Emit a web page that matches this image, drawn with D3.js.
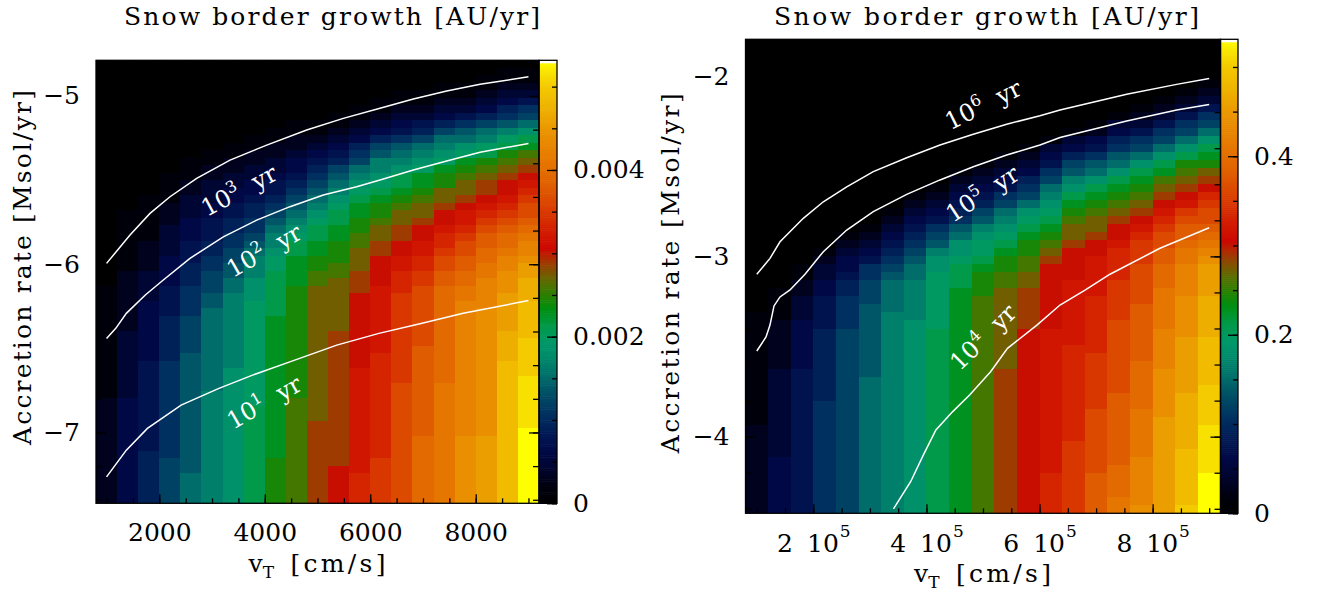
<!DOCTYPE html>
<html>
<head>
<meta charset="utf-8">
<script src="https://cdn.jsdelivr.net/npm/d3@7"></script>
<style>
  html, body { margin:0; padding:0; background:#ffffff; }
  svg { display:block; }
  text { font-family: "DejaVu Serif", serif; fill:#000; }
</style>
</head>
<body>
<svg id="chart" width="1318" height="595" xmlns="http://www.w3.org/2000/svg"></svg>
<script>
// ======================= DATA =======================
// turbulent velocity grid (cell centres) [cm/s]
const leftVT  = [1000,1400,1800,2200,2600,3000,3400,3800,4200,4600,5000,5400,5800,6200,6600,7000,7400,7800,8200,8600,9000];
const rightVT = [100000,140000,180000,220000,260000,300000,340000,380000,420000,460000,500000,540000,580000,620000,660000,700000,740000,780000,820000,860000,900000];
const leftVTRange  = [800, 9200];
const rightVTRange = [80000, 920000];
// log10 accretion rate extent of the image [Msol/yr]; rows are equal steps in log
const leftLogMdotRange  = [-7.421, -4.788];
const rightLogMdotRange = [-4.425, -1.796];
const gridRows = 59;
// colour-bar ranges [AU/yr]
const leftGrowthMax  = 0.005316;
const rightGrowthMax = 0.531;
// snow-border growth: one string per vT column (top row first),
// each character a base-36 level 0..z  (level/35 of the colour-bar range)
const levelSteps = 35;
const leftGrowthLevels = [
  "0000000000 0000000000 0000000000 1111111111 1111122222 222222222",
  "0000000000 0000000000 1111111122 2222223333 3333344444 444444444",
  "0000000000 0000000011 1111222233 3344444444 5555555555 556666666",
  "0000000000 0000011112 2233334444 5555666666 7777777777 777888888",
  "0000000000 0001112233 3444555666 7777888889 9999999999 99999aaaa",
  "0000000000 0011223334 4555667788 899aaaaaaa aaaabbbbbb bbbbbbbbb",
  "0000000000 0112233445 566778899a abbbbbbbbb bccccccccc ccccccccc",
  "0000000000 1122334456 67789abbbc ccdddddddd ddddddeeee eeeeeeeee",
  "0000000001 1223345567 89abbcddee eeeeffffff ffffffffff fffgggggg",
  "0000000011 2234456789 abcdeeffff gggggggggg ggggghhhhh hhhhhhhhh",
  "0000000011 23456789ab cdeeffgghh iiiiiiiiii iiiiiiiijj jjjjjjjjj",
  "0000000112 345689abcd eeffggghhi iiiiiijjjj jjjjjjjjjj jjjjkkkkk",
  "0000001123 4678abcdef fgghhiiijj jkkkkkkkkk klllllllll lllllmmmm",
  "0000011234 689bbcdefg ghiijjkkkk lllllllllm mmmmmmmmmm mmmnnnnnn",
  "0000112345 79abceefgh iijjkkllmm mnnnnnnnnn nnnooooooo ooooooooo",
  "0000112356 8abcdffghi ijkkllmmnn oooooooopp pppppppppp qqqqqqqqq",
  "0001123468 abcdfggiij kklmmnoopp qqqqqqqqqq qqqrrrrrrr rrrrrrrrr",
  "0001123579 acdfghiijk llmnooppqq rrssssssss ssssssssss ttttttttt",
  "001123468a bdeghijjkl mnoppqqrrs sssttttttt tttttttttt uuuuuuuuu",
  "011234679b deghijkklm nopqqrsstt tuuuuuvvvv wwwwwwwwww wwwwwwwww",
  "01123578ac efhijklmno opqrsstuuv vvwwwwwxxx xxyyyyyyyz zzzzzzzzz"
];
const rightGrowthLevels = [
  "0000000000 0000000000 0000000000 0000111111 1111111122 222222222",
  "0000000000 0000000000 0000000000 0111122222 2333333333 334444444",
  "0000000000 0000000000 0000000011 2233344444 4555555555 555555555",
  "0000000000 0000000000 0000001233 4455556666 6666677777 777777777",
  "0000000000 0000000000 0000123445 6677778888 8888888888 888888888",
  "0000000000 0000000000 0001234577 8889999999 99aaaaaaaa aaaaaaaaa",
  "0000000000 0000000000 0123456789 aaaabbbbbb bbbbbbbbbb bbbbbbbbb",
  "0000000000 0000000001 23456789aa bbbbbccccc cccccccccc ccccccccc",
  "0000000000 0000000012 345789bccd ddddddeeee eeeeeeeeee eeeeeeeee",
  "0000000000 0000001234 5679accdee efffffffff ffffffffff fffffffff",
  "0000000000 0000012345 689bcddefg gghhhhhhhh hhhhhhhhhh hhhhhhhhh",
  "0000000000 0000123457 8abcdefggh hiiiiiiiii ijjjjjjjjj jjjjjjjjj",
  "0000000000 0001234678 acdefgghhi ijjjjjkkkk kkkkkkkkkk kkkkkkkkk",
  "0000000000 00134578ab cdefghijkk kkkkkkllll llllllllll llllmmmmm",
  "0000000000 0134689bce fghiijkkkk llllllllmm mmmmmmmmmm nnnnnnnnn",
  "0000000000 124579acef ghiijkklll llmmmmmmmn nnnnnnoooo ooooppppp",
  "0000000001 34679acefg hijkklmmmm nnnnnooooo oooopppppp pppqqqqrr",
  "0000000012 3578acefgh ijklmnnnoo oooppppppp qqqqqqrrrr rrsssssst",
  "0000000123 578acefhij klmnooppqq qrrrrrssss sttttttuuu uuuuuuuuu",
  "0000001235 78aceghijk lnoppqrrss sstttttuuu uuuuvvvvvv vwwwwwwwx",
  "0000012357 8acefgijkm noopqrstuu uuvvvvvwww wwwxxxxxyy yyyyzzzzz"
];
// timescale contours [vT, log10 Mdot]
const leftContour1e3 = [[1000,-5.995],[1445,-5.827],[1824,-5.698],[2203,-5.599],[2709,-5.490],[3341,-5.381],[4037,-5.292],[4795,-5.202],[5489,-5.133],[6185,-5.073],[6817,-5.018],[7450,-4.971],[8082,-4.931],[9000,-4.886]];
const leftContour1e2 = [[1000,-6.441],[1175,-6.381],[1375,-6.292],[1735,-6.183],[2076,-6.094],[2582,-5.965],[3214,-5.837],[3847,-5.738],[4479,-5.658],[5110,-5.589],[5743,-5.540],[6185,-5.500],[6817,-5.440],[7450,-5.387],[8082,-5.335],[9000,-5.282]];
const leftContour1e1 = [[1000,-7.264],[1375,-7.105],[1775,-6.976],[2414,-6.837],[3131,-6.738],[3769,-6.659],[4568,-6.570],[5366,-6.481],[6164,-6.411],[6963,-6.352],[7763,-6.292],[9000,-6.216]];
const rightContour1e6 = [[100000,-3.099],[123300,-3.011],[141000,-2.919],[182200,-2.789],[217600,-2.697],[259000,-2.614],[306000,-2.530],[365100,-2.453],[424000,-2.382],[482800,-2.323],[541900,-2.267],[600800,-2.220],[636200,-2.188],[754100,-2.101],[842500,-2.046],[900000,-2.013]];
const rightContour1e5 = [[100000,-3.525],[116300,-3.447],[123300,-3.381],[130400,-3.275],[141000,-3.225],[158700,-3.186],[185200,-3.099],[217600,-2.974],[259000,-2.854],[306000,-2.752],[365100,-2.656],[424000,-2.576],[482800,-2.503],[541900,-2.438],[600800,-2.382],[636200,-2.341],[754100,-2.249],[842500,-2.188],[900000,-2.157]];
const rightContour1e4 = [[341700,-4.401],[372000,-4.250],[394400,-4.102],[416700,-3.963],[446400,-3.861],[476300,-3.769],[513400,-3.640],[543300,-3.510],[595300,-3.381],[636200,-3.270],[680400,-3.187],[724600,-3.099],[813000,-2.955],[900000,-2.841]];
const leftContourExponents  = ["3","2","1"];
const rightContourExponents = ["6","5","4"];
// ticks
const leftXTicks  = [2000,4000,6000,8000];
const rightXTicks = [200000,400000,600000,800000];
const leftYTicks  = [-7,-6,-5];
const rightYTicks = [-4,-3,-2];
const leftCbarTicks  = [0,0.002,0.004];
const rightCbarTicks = [0,0.2,0.4];
// texts
const titleText  = "Snow border growth [AU/yr]";
const yTitleText = "Accretion rate [Msol/yr]";
const xTitleVar = "v", xTitleSub = "T", xTitleUnit = "[cm/s]";
const contourUnit = "yr";

// ======================= STYLE / LAYOUT =======================
const colorStops = [0,0.04,0.08,0.12,0.16,0.20,0.25,0.29,0.33,0.36,0.40,0.44,0.47,0.50,0.53,0.555,0.575,0.62,0.67,0.72,0.78,0.84,0.89,0.94,0.975,1];
const colorHex   = ["#000000","#000010","#000530","#000a48","#001a55","#003060","#005066","#00706a","#008a6a","#00986a","#009a4a","#008f10","#2a8000","#5a6e00","#8a4c00","#b02a00","#cc0800","#d42000","#da4000","#e06000","#e67a00","#ea9400","#eeb000","#f4c800","#f8e400","#ffff00"];
const cmap = d3.scaleLinear().domain(colorStops).range(colorHex).interpolate(d3.interpolateRgb).clamp(true);

const FS = 25;
const LAYOUT = {
  left: { x0:96, x1:539, y0:60.3, y1:503.3, cbX0:539, cbX1:557,
          titleX:332, titleW:416, yTitleX:31, yTitleY:267.5, yTitleW:355,
          xTitleC:317.5, xTitleBase:571.7, xPad:20,
          labels:[{vT:3515,logM:-5.564,angle:-28},{vT:3989,logM:-5.921,angle:-30},{vT:3991,logM:-6.822,angle:-30}] },
  right:{ x0:745.5, x1:1220.5, y0:39.3, y1:513.3, cbX0:1220.5, cbX1:1238,
          titleX:986.5, titleW:425, yTitleX:679, yTitleY:273.3, yTitleW:360,
          xTitleC:983, xTitleBase:581.7, xPad:20.5,
          labels:[{vT:500500,logM:-2.160,angle:-26.6},{vT:499100,logM:-2.654,angle:-33.4},{vT:500500,logM:-3.450,angle:-44.5}] }
};

const svg = d3.select("#chart");
svg.append("rect").attr("width",1318).attr("height",595).attr("fill","#fff");

function styleAxis(sel){
  sel.select(".domain").remove();
  sel.attr("font-family", null).attr("font-size", FS);
  sel.selectAll(".tick line").attr("stroke","#000").attr("stroke-width",1.3);
}

function drawPanel(P, Lay, id){
  const g = svg.append("g");
  const x  = d3.scaleLinear().domain(P.vtRange).range([Lay.x0, Lay.x1]);
  const y  = d3.scaleLinear().domain(P.logRange).range([Lay.y1, Lay.y0]);
  const cb = d3.scaleLinear().domain([0, P.vmax]).range([Lay.y1, Lay.y0]);
  const dv = P.vT[1] - P.vT[0];
  const dRow = (P.logRange[1] - P.logRange[0]) / gridRows;

  const cells = [];
  P.levels.forEach((str, j) => {
    const s = str.replace(/ /g, "");
    for (let i = 0; i < s.length; i++) {
      const top = P.logRange[1] - i*dRow;
      cells.push({ v:P.vT[j], top, bot: top - dRow, val: parseInt(s[i],36)/levelSteps*P.vmax });
    }
  });
  const clipId = "clip-" + id;
  svg.append("clipPath").attr("id", clipId).append("rect")
     .attr("x", Lay.x0).attr("y", Lay.y0).attr("width", Lay.x1-Lay.x0).attr("height", Lay.y1-Lay.y0);
  const cg = g.append("g").attr("clip-path", `url(#${clipId})`);
  cg.selectAll("rect").data(cells).join("rect")
    .attr("x", d => x(d.v - dv/2)).attr("y", d => y(d.top))
    .attr("width", d => x(d.v + dv/2) - x(d.v - dv/2))
    .attr("height", d => y(d.bot) - y(d.top))
    .attr("fill", d => cmap(d.val / P.vmax))
    .attr("shape-rendering","crispEdges");

  const line = d3.line().x(d => x(d[0])).y(d => y(d[1]));
  cg.selectAll("path.contour").data(P.contours).join("path")
    .attr("class","contour").attr("d", line)
    .attr("fill","none").attr("stroke","#fff").attr("stroke-width",1.5);

  P.exps.forEach((ex, k) => {
    const pos = Lay.labels[k];
    const t = g.append("text")
      .attr("transform", `translate(${x(pos.vT)},${y(pos.logM)}) rotate(${pos.angle})`)
      .attr("text-anchor","middle").attr("y", 8).attr("font-size", 24).style("fill","#fff");
    t.append("tspan").text("10");
    t.append("tspan").attr("dy",-10).attr("font-size",16).text(ex);
    t.append("tspan").attr("dy",10).attr("dx",16).text(contourUnit);
  });

  // colour bar
  const nSteps = 240;
  g.append("g").selectAll("rect").data(d3.range(nSteps)).join("rect")
    .attr("x", Lay.cbX0).attr("width", Lay.cbX1 - Lay.cbX0)
    .attr("y", k => cb((k+1)/nSteps*P.vmax))
    .attr("height", k => cb(k/nSteps*P.vmax) - cb((k+1)/nSteps*P.vmax) + 0.6)
    .attr("fill", k => cmap((k+0.5)/nSteps));
  g.append("rect").attr("x",Lay.cbX0).attr("y",Lay.y0).attr("width",Lay.cbX1-Lay.cbX0).attr("height",3).attr("fill","#fff");

  // axes
  const xMinor = P.xMinor, yMinor = P.yMinor;
  g.append("g").attr("transform",`translate(0,${Lay.y1})`)
    .call(d3.axisBottom(x).tickValues(xMinor).tickSize(-5).tickFormat(() => "")).call(styleAxis);
  const xb = g.append("g").attr("transform",`translate(0,${Lay.y1})`)
    .call(d3.axisBottom(x).tickValues(P.xTicks).tickSize(-9).tickPadding(Lay.xPad).tickFormat(P.xFormat)).call(styleAxis);
  if (P.sciX) {
    xb.selectAll(".tick text").each(function(d){
      const t = d3.select(this); t.text(null);
      t.append("tspan").text(String(d/1e5));
      t.append("tspan").attr("dx",14).text("10");
      t.append("tspan").attr("dx",1).attr("dy",-15).attr("font-size",17).text("5");
    });
  }
  g.append("g").attr("transform",`translate(0,${Lay.y0})`)
    .call(d3.axisTop(x).tickValues(xMinor).tickSize(-5).tickFormat(() => "")).call(styleAxis);
  g.append("g").attr("transform",`translate(0,${Lay.y0})`)
    .call(d3.axisTop(x).tickValues(P.xTicks).tickSize(-9).tickFormat(() => "")).call(styleAxis);
  g.append("g").attr("transform",`translate(${Lay.x0},0)`)
    .call(d3.axisLeft(y).tickValues(yMinor).tickSize(-6).tickFormat(() => "")).call(styleAxis);
  g.append("g").attr("transform",`translate(${Lay.x0},0)`)
    .call(d3.axisLeft(y).tickValues(P.yTicks).tickSize(-10).tickPadding(16).tickFormat(d3.format("d"))).call(styleAxis);
  g.append("g").attr("transform",`translate(${Lay.x1},0)`)
    .call(d3.axisRight(y).tickValues(yMinor).tickSize(-6).tickFormat(() => "")).call(styleAxis);
  g.append("g").attr("transform",`translate(${Lay.x1},0)`)
    .call(d3.axisRight(y).tickValues(P.yTicks).tickSize(-10).tickFormat(() => "")).call(styleAxis);
  g.append("g").attr("transform",`translate(${Lay.cbX1},0)`)
    .call(d3.axisRight(cb).tickValues(P.cbMinor).tickSize(-5).tickFormat(() => "")).call(styleAxis);
  g.append("g").attr("transform",`translate(${Lay.cbX1},0)`)
    .call(d3.axisRight(cb).tickValues(P.cbTicks).tickSize(-10).tickPadding(16).tickFormat(d => String(d))).call(styleAxis);

  // frames
  g.append("rect").attr("x",Lay.x0).attr("y",Lay.y0).attr("width",Lay.x1-Lay.x0).attr("height",Lay.y1-Lay.y0)
    .attr("fill","none").attr("stroke","#000").attr("stroke-width",1.3);
  g.append("rect").attr("x",Lay.cbX0).attr("y",Lay.y0).attr("width",Lay.cbX1-Lay.cbX0).attr("height",Lay.y1-Lay.y0)
    .attr("fill","none").attr("stroke","#000").attr("stroke-width",1.3);

  // titles
  svg.append("text").attr("x",Lay.titleX).attr("y",25).attr("text-anchor","middle").attr("font-size",FS)
    .attr("textLength",Lay.titleW).attr("lengthAdjust","spacing").text(titleText);
  svg.append("text").attr("transform",`translate(${Lay.yTitleX},${Lay.yTitleY}) rotate(-90)`)
    .attr("text-anchor","middle").attr("font-size",FS)
    .attr("textLength",Lay.yTitleW).attr("lengthAdjust","spacing").text(yTitleText);
  const xt = svg.append("text").attr("x",Lay.xTitleC-69).attr("y",Lay.xTitleBase).attr("font-size",FS);
  xt.append("tspan").text(xTitleVar);
  xt.append("tspan").attr("dy",6.6).attr("font-size",17).text(xTitleSub);
  svg.append("text").attr("x",Lay.xTitleC-27).attr("y",Lay.xTitleBase).attr("font-size",FS)
    .attr("textLength",95).attr("lengthAdjust","spacing").text(xTitleUnit);
}

drawPanel({
  vT:leftVT, vtRange:leftVTRange, logRange:leftLogMdotRange, vmax:leftGrowthMax, levels:leftGrowthLevels,
  contours:[leftContour1e3,leftContour1e2,leftContour1e1], exps:leftContourExponents,
  xTicks:leftXTicks, xMinor:d3.range(1000,9001,500), xFormat:d3.format("d"), sciX:false,
  yTicks:leftYTicks, yMinor:d3.range(-37,-23).map(k=>k/5),
  cbTicks:leftCbarTicks, cbMinor:d3.range(0,11).map(k=>k*0.0005)
}, LAYOUT.left, "L");

drawPanel({
  vT:rightVT, vtRange:rightVTRange, logRange:rightLogMdotRange, vmax:rightGrowthMax, levels:rightGrowthLevels,
  contours:[rightContour1e6,rightContour1e5,rightContour1e4], exps:rightContourExponents,
  xTicks:rightXTicks, xMinor:d3.range(100000,900001,50000), xFormat:d3.format("d"), sciX:true,
  yTicks:rightYTicks, yMinor:d3.range(-22,-8).map(k=>k/5),
  cbTicks:rightCbarTicks, cbMinor:d3.range(0,11).map(k=>k*0.05)
}, LAYOUT.right, "R");
</script>
</body>
</html>
